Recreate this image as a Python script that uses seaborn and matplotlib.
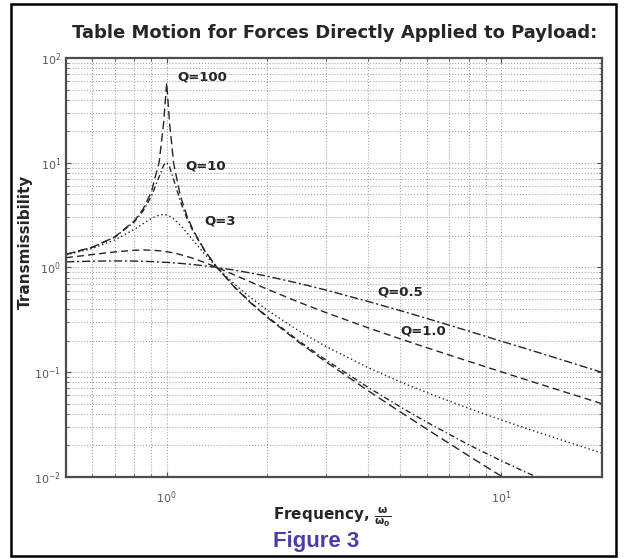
import numpy as np
import pandas as pd
import matplotlib
matplotlib.use("Agg")
import matplotlib.pyplot as plt
from matplotlib.patches import Rectangle
import seaborn as sns

sns.set_style("ticks")
plt.rcParams['font.family'] = ['DejaVu Sans']

# frequency ratio w/w0 and transmissibility
freq = [0.5, 0.6, 0.7, 0.8, 0.85, 0.9, 0.95, 0.98, 1.0, 1.02, 1.05, 1.1, 1.15,
        1.2, 1.3, 1.414, 1.6, 1.8, 2.0, 2.5, 3, 4, 5, 6, 8, 10, 12, 15, 20]

t_q100 = [1.333, 1.563, 1.961, 2.778, 3.604, 5.26, 10.2, 24.5, 58.0, 24.0, 9.71,
          4.76, 3.10, 2.27, 1.449, 1.0, 0.641, 0.447, 0.333, 0.1905, 0.125,
          0.0667, 0.0417, 0.0286, 0.0159, 0.0102, 0.00704, 0.00451, 0.00256]
t_q10 = [1.332, 1.559, 1.947, 2.72, 3.46, 4.78, 7.38, 9.51, 10.05, 9.16, 6.85,
         4.24, 2.94, 2.21, 1.436, 1.0, 0.646, 0.452, 0.339, 0.196, 0.1304,
         0.0718, 0.0466, 0.0333, 0.0203, 0.0143, 0.0109, 0.00805, 0.0056]
t_q3 = [1.32, 1.521, 1.831, 2.31, 2.62, 2.94, 3.17, 3.20, 3.16, 3.08, 2.905,
        2.52, 2.14, 1.811, 1.338, 1.0, 0.687, 0.503, 0.391, 0.245, 0.1754,
        0.1107, 0.0808, 0.0638, 0.0452, 0.0351, 0.0288, 0.0228, 0.0169]
t_q1 = [1.24, 1.329, 1.409, 1.46, 1.468, 1.463, 1.444, 1.428, 1.414, 1.399, 1.374,
        1.328, 1.276, 1.222, 1.114, 1.0, 0.844, 0.717, 0.620, 0.463, 0.370,
        0.2656, 0.208, 0.1713, 0.127, 0.101, 0.0839, 0.067, 0.0501]
t_q05 = [1.131, 1.149, 1.155, 1.151, 1.145, 1.138, 1.129, 1.122, 1.118, 1.114, 1.106,
         1.094, 1.080, 1.066, 1.036, 1.0, 0.942, 0.881, 0.825, 0.703, 0.608,
         0.474, 0.387, 0.326, 0.247, 0.198, 0.166, 0.133, 0.0998]

q_names = ["Q=100", "Q=10", "Q=3", "Q=1.0", "Q=0.5"]
series = [t_q100, t_q10, t_q3, t_q1, t_q05]

df = pd.concat([pd.DataFrame({"freq": freq, "T": s, "Q": n})
                for n, s in zip(q_names, series)], ignore_index=True)

dashes = {"Q=100": (6, 3), "Q=10": (4, 2, 1, 2), "Q=3": (1, 2),
          "Q=1.0": (5, 3), "Q=0.5": (6, 2, 1.5, 2)}

fig = plt.figure(figsize=(6.26, 5.59), dpi=100)
ax = fig.add_axes([0.1054, 0.1467, 0.856, 0.7496])

sns.lineplot(data=df, x="freq", y="T", style="Q", dashes=dashes, color="0.15",
             linewidth=1.0, sort=False, legend=False, ax=ax)

ax.set(xscale="log", yscale="log", xlim=(0.5, 20), ylim=(1e-2, 1e2))
ax.set_xlabel("")
ax.set_ylabel("")
ax.grid(which="both", linestyle=":", color="0.65", linewidth=0.8)
ax.tick_params(which="both", direction="in", top=True, right=True,
               labelsize=8, labelcolor="0.35", color="0.3")
ax.tick_params(axis="x", pad=9)
for sp in ax.spines.values():
    sp.set_linewidth(1.6)
    sp.set_color("0.3")
    sp.set_visible(True)

# curve labels
labels = [("Q=100", 1.078, 66), ("Q=10", 1.14, 9.4), ("Q=3", 1.30, 2.75),
          ("Q=0.5", 4.27, 0.58), ("Q=1.0", 4.99, 0.246)]
for txt, x, y in labels:
    ax.text(x, y, txt, fontsize=9.5, fontweight="bold", ha="left", va="center")

fig.text(0.534, 0.941, "Table Motion for Forces Directly Applied to Payload:",
         ha="center", va="center", fontsize=13, fontweight="heavy")
fig.text(0.04, 0.567, "Transmissibility", rotation=90, ha="center", va="center",
         fontsize=11, fontweight="bold")
fig.text(0.53, 0.075, r"Frequency, $\mathbf{\frac{\omega}{\omega_0}}$",
         ha="center", va="center", fontsize=11, fontweight="bold")
fig.text(0.505, 0.032, "Figure 3", ha="center", va="center", fontsize=16,
         fontweight="bold", color="#4a3da3", family=["Liberation Sans", "DejaVu Sans"])

fig.patches.append(Rectangle((0.018, 0.005), 0.966, 0.988, transform=fig.transFigure,
                             fill=False, edgecolor="black", linewidth=1.8))

fig.savefig("out.png", dpi=100)
